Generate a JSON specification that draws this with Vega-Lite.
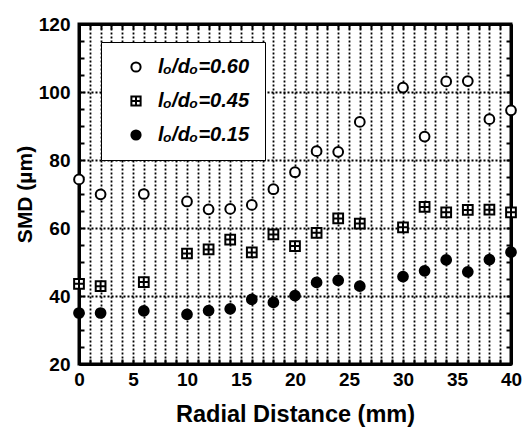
{
  "$schema": "https://vega.github.io/schema/vega-lite/v6.json",
  "width": 432,
  "height": 340,
  "autosize": "none",
  "padding": {"left": 79, "top": 24, "right": 12, "bottom": 68},
  "background": "white",
  "config": {
    "font": "Liberation Sans",
    "view": {"stroke": "black", "strokeWidth": 3},
    "axis": {
      "domainColor": "black",
      "domainWidth": 3,
      "tickColor": "black",
      "tickWidth": 2,
      "tickSize": -5,
      "labelColor": "black",
      "labelFontSize": 19,
      "labelFontWeight": "bold",
      "labelFont": "Liberation Sans",
      "titleColor": "black",
      "titleFont": "Liberation Sans",
      "titleFontSize": 21,
      "titleFontWeight": "bold",
      "gridColor": "black",
      "gridDash": [2, 2],
      "gridWidth": 1.8,
      "labelFlush": false,
      "labelOverlap": false
    }
  },
  "data": {
    "values": [
      {"r": 0, "smd": 74.3, "ratio": "0.60"},
      {"r": 2, "smd": 69.9, "ratio": "0.60"},
      {"r": 6, "smd": 70.0, "ratio": "0.60"},
      {"r": 10, "smd": 67.8, "ratio": "0.60"},
      {"r": 12, "smd": 65.5, "ratio": "0.60"},
      {"r": 14, "smd": 65.6, "ratio": "0.60"},
      {"r": 16, "smd": 66.8, "ratio": "0.60"},
      {"r": 18, "smd": 71.4, "ratio": "0.60"},
      {"r": 20, "smd": 76.4, "ratio": "0.60"},
      {"r": 22, "smd": 82.6, "ratio": "0.60"},
      {"r": 24, "smd": 82.4, "ratio": "0.60"},
      {"r": 26, "smd": 91.2, "ratio": "0.60"},
      {"r": 30, "smd": 101.3, "ratio": "0.60"},
      {"r": 32, "smd": 86.9, "ratio": "0.60"},
      {"r": 34, "smd": 103.1, "ratio": "0.60"},
      {"r": 36, "smd": 103.2, "ratio": "0.60"},
      {"r": 38, "smd": 92.0, "ratio": "0.60"},
      {"r": 40, "smd": 94.6, "ratio": "0.60"},
      {"r": 0, "smd": 43.6, "ratio": "0.45"},
      {"r": 2, "smd": 42.9, "ratio": "0.45"},
      {"r": 6, "smd": 44.1, "ratio": "0.45"},
      {"r": 10, "smd": 52.5, "ratio": "0.45"},
      {"r": 12, "smd": 53.7, "ratio": "0.45"},
      {"r": 14, "smd": 56.6, "ratio": "0.45"},
      {"r": 16, "smd": 52.8, "ratio": "0.45"},
      {"r": 18, "smd": 58.1, "ratio": "0.45"},
      {"r": 20, "smd": 54.7, "ratio": "0.45"},
      {"r": 22, "smd": 58.6, "ratio": "0.45"},
      {"r": 24, "smd": 62.8, "ratio": "0.45"},
      {"r": 26, "smd": 61.3, "ratio": "0.45"},
      {"r": 30, "smd": 60.2, "ratio": "0.45"},
      {"r": 32, "smd": 66.2, "ratio": "0.45"},
      {"r": 34, "smd": 64.6, "ratio": "0.45"},
      {"r": 36, "smd": 65.3, "ratio": "0.45"},
      {"r": 38, "smd": 65.4, "ratio": "0.45"},
      {"r": 40, "smd": 64.6, "ratio": "0.45"},
      {"r": 0, "smd": 35.0, "ratio": "0.15"},
      {"r": 2, "smd": 35.0, "ratio": "0.15"},
      {"r": 6, "smd": 35.6, "ratio": "0.15"},
      {"r": 10, "smd": 34.6, "ratio": "0.15"},
      {"r": 12, "smd": 35.7, "ratio": "0.15"},
      {"r": 14, "smd": 36.2, "ratio": "0.15"},
      {"r": 16, "smd": 39.0, "ratio": "0.15"},
      {"r": 18, "smd": 38.1, "ratio": "0.15"},
      {"r": 20, "smd": 40.1, "ratio": "0.15"},
      {"r": 22, "smd": 44.0, "ratio": "0.15"},
      {"r": 24, "smd": 44.6, "ratio": "0.15"},
      {"r": 26, "smd": 42.9, "ratio": "0.15"},
      {"r": 30, "smd": 45.7, "ratio": "0.15"},
      {"r": 32, "smd": 47.4, "ratio": "0.15"},
      {"r": 34, "smd": 50.6, "ratio": "0.15"},
      {"r": 36, "smd": 47.1, "ratio": "0.15"},
      {"r": 38, "smd": 50.7, "ratio": "0.15"},
      {"r": 40, "smd": 52.9, "ratio": "0.15"}
    ]
  },
  "layer": [
    {
      "mark": {"type": "point", "opacity": 0},
      "encoding": {
        "x": {
          "field": "r", "type": "quantitative",
          "scale": {"domain": [0, 40], "nice": false},
          "axis": {
            "orient": "top", "title": null, "labels": false, "grid": false,
            "values": [0,1,2,3,4,5,6,7,8,9,10,11,12,13,14,15,16,17,18,19,20,21,22,23,24,25,26,27,28,29,30,31,32,33,34,35,36,37,38,39,40]
          }
        },
        "y": {
          "field": "smd", "type": "quantitative",
          "scale": {"domain": [20, 120], "nice": false},
          "axis": {
            "orient": "right", "title": null, "labels": false, "grid": false,
            "values": [20,25,30,35,40,45,50,55,60,65,70,75,80,85,90,95,100,105,110,115,120]
          }
        }
      }
    },
    {
      "mark": {"type": "point", "strokeWidth": 2, "opacity": 1, "size": 95},
      "encoding": {
        "x": {
          "field": "r", "type": "quantitative",
          "scale": {"domain": [0, 40], "nice": false},
          "axis": {
            "orient": "bottom", "title": "Radial Distance (mm)", "grid": true,
            "labelPadding": 11, "titlePadding": 13, "titleFontSize": 23.5,
            "labelExpr": "datum.value % 5 === 0 ? datum.label : ''",
            "values": [0,1,2,3,4,5,6,7,8,9,10,11,12,13,14,15,16,17,18,19,20,21,22,23,24,25,26,27,28,29,30,31,32,33,34,35,36,37,38,39,40]
          }
        },
        "y": {
          "field": "smd", "type": "quantitative",
          "scale": {"domain": [20, 120], "nice": false},
          "axis": {
            "orient": "left", "title": "SMD (µm)", "grid": true,
            "gridOpacity": {"condition": {"test": "datum.value % 20 === 0", "value": 1}, "value": 0},
            "labelPadding": 14, "titlePadding": 3,
            "labelExpr": "datum.value % 20 === 0 ? datum.label : ''",
            "values": [20,25,30,35,40,45,50,55,60,65,70,75,80,85,90,95,100,105,110,115,120]
          }
        },
        "stroke": {
          "field": "ratio", "type": "nominal",
          "scale": {"domain": ["0.60", "0.45", "0.15"], "range": ["black", "black", "black"]},
          "legend": {
            "title": null, "orient": "none", "legendX": 22, "legendY": 18,
            "padding": 15, "strokeColor": "black", "fillColor": "white",
            "symbolSize": 85, "symbolStrokeWidth": 2, "symbolOffset": 10,
            "labelFont": "Liberation Sans", "labelFontSize": 20, "labelFontWeight": "bold", "labelFontStyle": "italic",
            "labelColor": "black", "labelOffset": 12, "rowPadding": 14, "labelLimit": 300,
            "labelExpr": "'lₒ/dₒ=' + datum.label"
          }
        },
        "shape": {
          "field": "ratio", "type": "nominal",
          "scale": {"domain": ["0.60", "0.45", "0.15"], "range": ["circle", "M-1,-1H1V1H-1Z M0,-1V1 M-1,0H1", "circle"]},
          "legend": {
            "title": null, "orient": "none", "legendX": 22, "legendY": 18,
            "padding": 15, "strokeColor": "black", "fillColor": "white",
            "symbolSize": 85, "symbolStrokeWidth": 2, "symbolOffset": 10,
            "labelFont": "Liberation Sans", "labelFontSize": 20, "labelFontWeight": "bold", "labelFontStyle": "italic",
            "labelColor": "black", "labelOffset": 12, "rowPadding": 14, "labelLimit": 300,
            "labelExpr": "'lₒ/dₒ=' + datum.label"
          }
        },
        "fill": {
          "field": "ratio", "type": "nominal",
          "scale": {"domain": ["0.60", "0.45", "0.15"], "range": ["white", "white", "black"]},
          "legend": {
            "title": null, "orient": "none", "legendX": 22, "legendY": 18,
            "padding": 15, "strokeColor": "black", "fillColor": "white",
            "symbolSize": 85, "symbolStrokeWidth": 2, "symbolOffset": 10,
            "labelFont": "Liberation Sans", "labelFontSize": 20, "labelFontWeight": "bold", "labelFontStyle": "italic",
            "labelColor": "black", "labelOffset": 12, "rowPadding": 14, "labelLimit": 300,
            "labelExpr": "'lₒ/dₒ=' + datum.label"
          }
        }
      }
    }
  ],
  "resolve": {"axis": {"x": "independent", "y": "independent"}}
}
